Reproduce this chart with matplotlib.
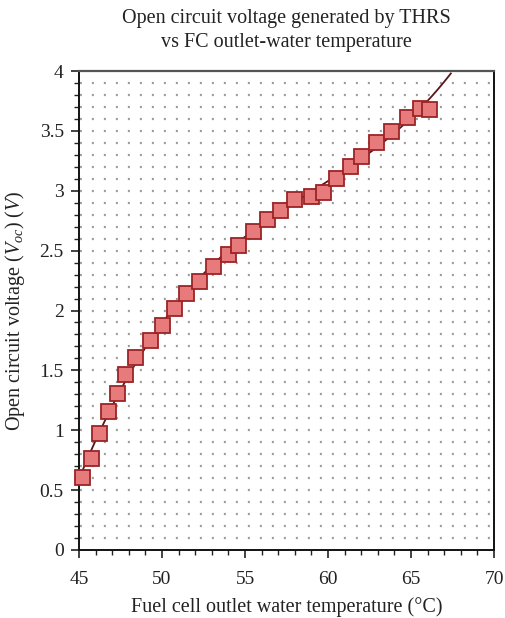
import numpy as np
import matplotlib
matplotlib.use("Agg")
import matplotlib.pyplot as plt

plt.rcParams['font.family'] = ['Liberation Serif', 'DejaVu Serif']
plt.rcParams['mathtext.fontset'] = 'custom'
plt.rcParams['mathtext.rm'] = 'Liberation Serif'
plt.rcParams['mathtext.it'] = 'Liberation Serif:italic'
plt.rcParams['lines.scale_dashes'] = False

# Data
temperature = [45.18, 45.7, 46.2, 46.75, 47.3, 47.8, 48.4, 49.3, 50.0, 50.7,
               51.45, 52.2, 53.1, 54.0, 54.6, 55.5, 56.3, 57.1, 57.95, 59.0,
               59.7, 60.5, 61.3, 62.0, 62.9, 63.8, 64.75, 65.55, 66.1]
voltage = [0.61, 0.77, 0.98, 1.16, 1.31, 1.47, 1.61, 1.75, 1.88, 2.02,
           2.15, 2.25, 2.37, 2.47, 2.55, 2.66, 2.76, 2.84, 2.93, 2.96,
           2.99, 3.11, 3.21, 3.29, 3.41, 3.50, 3.62, 3.69, 3.68]

title = "Open circuit voltage generated by THRS\nvs FC outlet-water temperature"
xlabel = "Fuel cell outlet water temperature (°C)"
ylabel = "Open circuit voltage ($V_{oc}$) ($V$)"
xticks = [45, 50, 55, 60, 65, 70]
yticks = [0, 0.5, 1, 1.5, 2, 2.5, 3, 3.5, 4]
ytick_labels = ["0", "0.5", "1", "1.5", "2", "2.5", "3", "3.5", "4"]

fig = plt.figure(figsize=(5.05, 6.18), dpi=100)
ax = fig.add_axes([79/505, 1-550/618, (494-79)/505, (550-71)/618])

# dotted background grid (horizontal dotted lines every 0.1 V)
for yv in np.arange(0.1, 3.95, 0.1):
    ax.axhline(yv, color='#9a9a9a', lw=1.6, linestyle=(8.0, (1.4, 7.24)),
               zorder=0)

# fitted trend curve
coef = np.polyfit(temperature, voltage, 3)
tfit = np.linspace(45.0, 67.4, 200)
ax.plot(tfit, np.polyval(coef, tfit), color='#5a1518', lw=1.3, zorder=2)

ax.plot(temperature, voltage, linestyle='none', marker='s', markersize=10.8,
        markerfacecolor='#e77b7c', markeredgecolor='#9b2326',
        markeredgewidth=1.3, zorder=3, clip_on=False)

ax.set_xlim(45, 70)
ax.set_ylim(0, 4)
ax.set_xticks(xticks)
ax.set_yticks(yticks)
ax.set_yticklabels(ytick_labels)
ax.set_xticks(np.arange(45, 71, 1), minor=True)
ax.set_yticks(np.arange(0, 4.01, 0.1), minor=True)
ax.tick_params(axis='both', which='major', direction='out', length=6,
               width=1.2, labelsize=14, color='#222222', labelcolor='#222222')
ax.tick_params(axis='both', which='minor', direction='out', length=3.5,
               width=1.0, color='#222222')
ax.tick_params(axis='x', pad=9)
ax.tick_params(axis='y', pad=5)

for s in ['left', 'bottom', 'right']:
    ax.spines[s].set_color('#111111')
    ax.spines[s].set_linewidth(1.4)
ax.spines['top'].set_color('#555555')
ax.spines['top'].set_linewidth(1.6)

ax.set_xlabel(xlabel, fontsize=14.5, color='#222222', labelpad=7)
ax.set_ylabel(ylabel, fontsize=14.5, color='#222222', labelpad=9)
ax.set_title(title, fontsize=14.5, color='#222222', pad=17, linespacing=1.35)

fig.savefig("out.png", dpi=100)
